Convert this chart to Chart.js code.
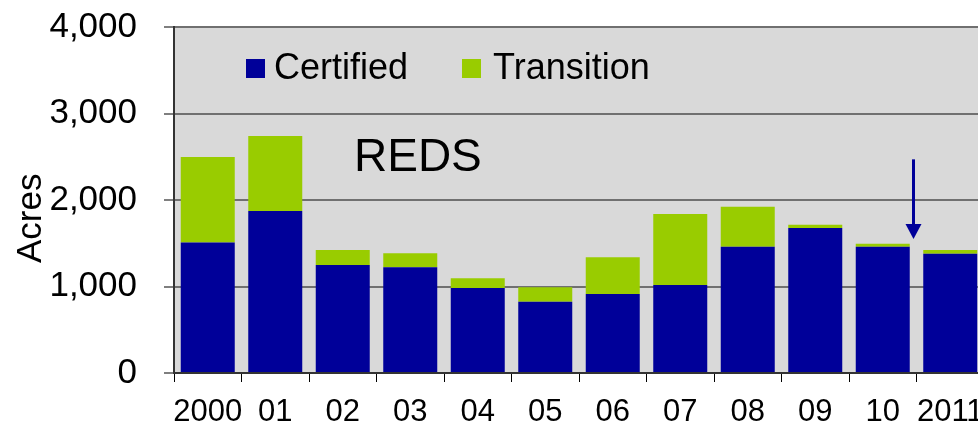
<!DOCTYPE html>
<html><head><meta charset="utf-8">
<script src="https://cdn.jsdelivr.net/npm/chart.js@4"></script>
<style>
html,body{margin:0;padding:0;background:#fff;overflow:hidden;width:978px;height:423px}
#wrap{width:1000px;height:423px}
canvas{display:block}
</style></head>
<body><div id="wrap"><canvas id="c" width="1000" height="423" style="width:1000px;height:423px"></canvas></div>
<script>
// ---- data ----
const years = ['2000','01','02','03','04','05','06','07','08','09','10','2011'];
const certified = [1510,1873,1249,1222,983,825,913,1017,1460,1676,1460,1379];
const transition = [987,867,173,162,112,166,425,821,463,39,35,43];
const yTicks = [0,1000,2000,3000,4000];
const seriesNames = ['Certified','Transition'];
const chartTitle = 'REDS';
const yTitle = 'Acres';
// arrow annotation (between categories "10" and "2011")
const arrowFrom = 2470;
const arrowTo = 1550;

const FONT = '"Liberation Sans", Arial, Helvetica, sans-serif';
const BLUE = '#000099';
const GREEN = '#99cc00';

const decor = {
  id: 'decor',
  beforeDraw(chart){
    const {ctx, chartArea:a} = chart;
    ctx.save();
    ctx.fillStyle = '#d9d9d9';
    ctx.fillRect(a.left, a.top, a.right - a.left, a.bottom - a.top);
    ctx.restore();
  },
  afterDatasetsDraw(chart){
    const {ctx, scales:{x, y}} = chart;
    ctx.save();
    // title
    ctx.fillStyle = '#000';
    ctx.textAlign = 'left';
    ctx.textBaseline = 'alphabetic';
    ctx.font = '46px ' + FONT;
    ctx.fillText(chartTitle, 354, 171);
    // legend
    const colors = [BLUE, GREEN];
    const boxX = [246, 462];
    const textX = [274, 493];
    ctx.font = '36px ' + FONT;
    chart.data.datasets.forEach((ds, i) => {
      ctx.fillStyle = colors[i];
      ctx.fillRect(boxX[i], 59, 19, 19);
      ctx.fillStyle = '#000';
      ctx.fillText(ds.label, textX[i], 79);
    });
    // y title
    ctx.save();
    ctx.translate(41, 263);
    ctx.rotate(-Math.PI / 2);
    ctx.font = '35px ' + FONT;
    ctx.fillStyle = '#000';
    ctx.fillText(yTitle, 0, 0);
    ctx.restore();
    // arrow
    const xp = (x.getPixelForValue(10) + x.getPixelForValue(11)) / 2 - 3;
    const y1 = y.getPixelForValue(arrowFrom);
    const y2 = y.getPixelForValue(arrowTo);
    ctx.strokeStyle = BLUE;
    ctx.fillStyle = BLUE;
    ctx.lineWidth = 3;
    ctx.beginPath();
    ctx.moveTo(xp, y1);
    ctx.lineTo(xp, y2 - 14);
    ctx.stroke();
    ctx.beginPath();
    ctx.moveTo(xp - 8, y2 - 15);
    ctx.lineTo(xp + 8, y2 - 15);
    ctx.lineTo(xp, y2);
    ctx.closePath();
    ctx.fill();
    ctx.restore();
  }
};

new Chart(document.getElementById('c'), {
  type: 'bar',
  data: {
    labels: years,
    datasets: [
      {label: seriesNames[0], data: certified, backgroundColor: BLUE, borderWidth: 0},
      {label: seriesNames[1], data: transition, backgroundColor: GREEN, borderWidth: 0}
    ]
  },
  options: {
    responsive: false,
    animation: false,
    devicePixelRatio: 1,
    layout: {padding: {top: 27, right: 16, left: 0, bottom: 0}},
    datasets: {bar: {categoryPercentage: 1, barPercentage: 0.8}},
    plugins: {legend: {display: false}, tooltip: {enabled: false}, title: {display: false}},
    scales: {
      x: {
        stacked: true,
        offset: true,
        grid: {offset: true, drawOnChartArea: false, drawTicks: true, tickLength: 9, tickColor: '#000', tickWidth: 1},
        border: {color: '#333', width: 2},
        ticks: {font: {size: 31, family: FONT}, color: '#000', padding: 12, maxRotation: 0, minRotation: 0, autoSkip: false},
        afterFit(s){ s.height = 50; s.paddingLeft = 0; s.paddingRight = 0; }
      },
      y: {
        stacked: true,
        min: 0,
        max: 4000,
        afterBuildTicks(s){ s.ticks = yTicks.map(v => ({value: v})); },
        ticks: {font: {size: 35, family: FONT}, color: '#000', padding: 27,
          callback: v => Number(v).toLocaleString('en-US')},
        grid: {color: '#707070', lineWidth: 2, tickLength: 10, tickColor: '#555', tickWidth: 1.5},
        border: {color: '#333', width: 2},
        afterFit(s){ s.width = 174; s.paddingTop = 0; s.paddingBottom = 0; }
      }
    }
  },
  plugins: [decor]
});
</script>
</body></html>
